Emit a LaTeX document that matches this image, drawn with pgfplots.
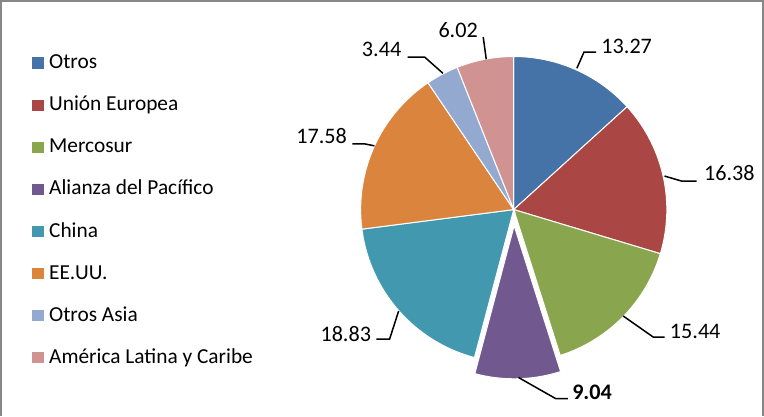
\documentclass[border=0pt]{standalone}
\usepackage{pgfplots}
\pgfplotsset{compat=1.18}
\usepackage{fontspec}
\setmainfont{Carlito}
\definecolor{c1}{HTML}{4572A7}
\definecolor{c2}{HTML}{AA4643}
\definecolor{c3}{HTML}{89A54E}
\definecolor{c4}{HTML}{71588F}
\definecolor{c5}{HTML}{4198AF}
\definecolor{c6}{HTML}{DB843D}
\definecolor{c7}{HTML}{93A9CF}
\definecolor{c8}{HTML}{D19392}
\definecolor{bordergray}{HTML}{878787}
\def\cum{0}
\def\pcx{513.3}
\def\pcy{204.7}
\def\pr{152}
% #1 value, #2 colour, #3 explode offset (px), #4 legend text
\newcommand\slice[4]{%
  \pgfmathsetmacro\aS{90-3.6*\cum}%
  \pgfmathsetmacro\aE{90-3.6*(\cum+#1)}%
  \pgfmathsetmacro\aM{(\aS+\aE)/2}%
  \pgfmathsetmacro\scx{\pcx+#3*cos(\aM)}%
  \pgfmathsetmacro\scy{\pcy+#3*sin(\aM)}%
  \edef\doit{\noexpand\addplot[fill=#2, draw=white, line width=0.5pt, domain=\aE:\aS, samples=80, variable=\noexpand\t]
    ({\scx+\pr*cos(\noexpand\t)},{\scy+\pr*sin(\noexpand\t)}) -- (axis cs:\scx,\scy) -- cycle;}%
  \doit
  \addlegendentry{#4}%
  \pgfmathsetmacro\newcum{\cum+#1}%
  \xdef\cum{\newcum}%
}
\begin{document}
\begin{tikzpicture}
\begin{axis}[
  hide axis, scale only axis, width=382pt, height=207pt,
  xmin=0, xmax=764, ymin=0, ymax=414, clip=false,
  legend cell align=left,
  legend image code/.code={\path[#1,draw=none] (0pt,-2.8pt) rectangle (5.7pt,2.8pt);},
  legend style={at={(axis cs:29,365)}, anchor=north west, draw=none, fill=none,
    font=\fontsize{10.6}{13}\selectfont, row sep=10.5pt,
    nodes={text height=8pt, text depth=2.4pt, inner ysep=0pt, inner xsep=2.6pt}},
]
\slice{13.27}{c1}{0}{Otros}
\slice{16.38}{c2}{0}{Unión Europea}
\slice{15.44}{c3}{0}{Mercosur}
\slice{9.04}{c4}{16}{Alianza del Pacífico}
\slice{18.83}{c5}{0}{China}
\slice{17.58}{c6}{0}{EE.UU.}
\slice{3.44}{c7}{0}{Otros Asia}
\slice{6.02}{c8}{0}{América Latina y Caribe}
% border
\draw[bordergray, line width=0.8pt] (axis cs:4,0) -- (axis cs:4,412) -- (axis cs:761,412) -- (axis cs:761,0);
% leader lines and labels
\begin{scope}[line width=0.75pt, black]
\draw (axis cs:576,345) -- (axis cs:583,361) -- (axis cs:595,361);
\draw (axis cs:663,238) -- (axis cs:680,233) -- (axis cs:695,233);
\draw (axis cs:622,99) -- (axis cs:652,78) -- (axis cs:663,78);
\draw (axis cs:518,38) -- (axis cs:555,17) -- (axis cs:567,17);
\draw (axis cs:399,104) -- (axis cs:390,76) -- (axis cs:377,76);
\draw (axis cs:375,268) -- (axis cs:365,270) -- (axis cs:353,270);
\draw (axis cs:443,340) -- (axis cs:425,356) -- (axis cs:408,356);
\draw (axis cs:486,354) -- (axis cs:483,376);
\end{scope}
\begin{scope}[every node/.style={inner sep=0pt, font=\fontsize{11}{13}\selectfont}]
\node[anchor=base west] at (axis cs:600,360) {13.27};
\node[anchor=base west] at (axis cs:702,234) {16.38};
\node[anchor=base west] at (axis cs:668,77) {15.44};
\node[anchor=base west, font=\fontsize{11}{13}\selectfont\bfseries] at (axis cs:571,16) {9.04};
\node[anchor=base east] at (axis cs:372,74) {18.83};
\node[anchor=base east] at (axis cs:348,270) {17.58};
\node[anchor=base east] at (axis cs:402,357) {3.44};
\node[anchor=base east] at (axis cs:478,376) {6.02};
\end{scope}
\end{axis}
\end{tikzpicture}
\end{document}
